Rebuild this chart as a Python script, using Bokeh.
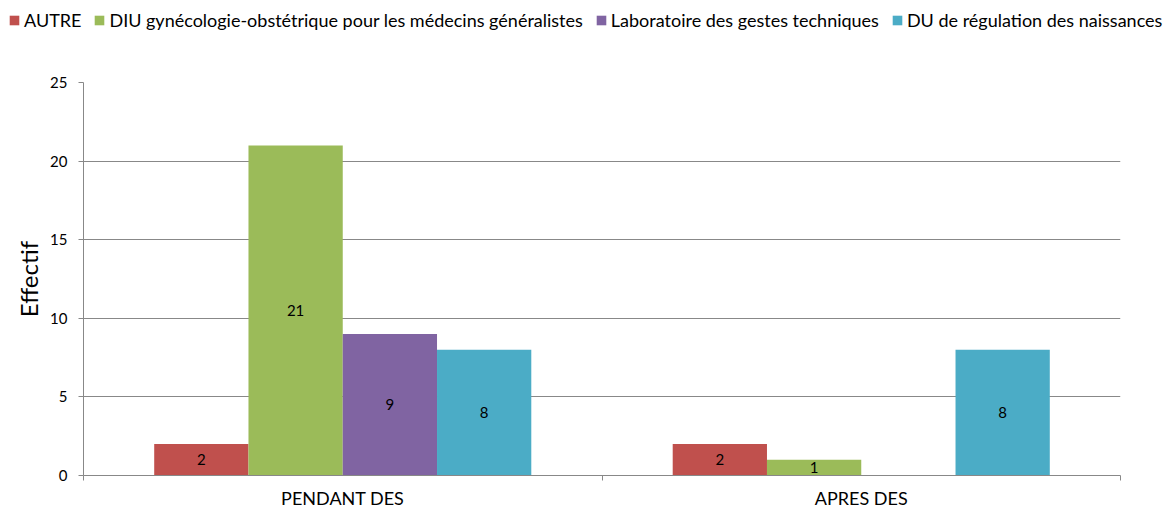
from bokeh.plotting import figure
from bokeh.layouts import column
from bokeh.models import ColumnDataSource, Legend, LegendItem, FixedTicker, Range1d
from bokeh.embed import file_html
from bokeh.resources import INLINE
from bokeh.core.properties import value

categories = ["PENDANT DES", "APRES DES"]
series_names = [
    "AUTRE",
    "DIU gynécologie-obstétrique pour les médecins généralistes",
    "Laboratoire des gestes techniques",
    "DU de régulation des naissances",
]
autre = [2, 2]
diu = [21, 1]
labo = [9, 0]
du = [8, 8]
series_values = [autre, diu, labo, du]
colors = ["#C0504D", "#9BBB59", "#8064A2", "#4BACC6"]
y_ticks = [0, 5, 10, 15, 20, 25]

FONT = "Lato"
GRAY = "#888888"
W = 1173
LEG_H = 40
TOTAL_H = 511

n_cat = len(categories)
n_ser = len(series_names)
gap = 1.5
w = 1.0 / (n_ser + gap)

p = figure(
    width=W, height=TOTAL_H - LEG_H,
    x_range=Range1d(0, n_cat), y_range=Range1d(0, 25),
    output_backend="svg", toolbar_location=None,
    min_border_left=83, min_border_right=W - 1120, min_border_top=82 - LEG_H,
    min_border_bottom=36,
)
p.outline_line_color = None
p.background_fill_color = "white"

# legend-only figure (same series, drawn out of view)
lf = figure(
    width=W, height=LEG_H, x_range=Range1d(100, 101), y_range=Range1d(100, 101),
    output_backend="svg", toolbar_location=None,
    x_axis_type=None, y_axis_type=None,
    min_border=0, min_border_left=0, min_border_right=0, min_border_top=0, min_border_bottom=0,
)
lf.outline_line_color = None
lf.xgrid.visible = False
lf.ygrid.visible = False
for fig in (lf, p):
    if "frame_align" in fig.properties():
        fig.frame_align = False

leg_renderers = []
for j, (name, vals, col) in enumerate(zip(series_names, series_values, colors)):
    xs = [i + 0.5 + (j - (n_ser - 1) / 2) * w for i in range(n_cat)]
    src = ColumnDataSource(dict(x=xs, top=vals))
    p.vbar(x="x", top="top", bottom=0, width=w, source=src,
           fill_color=col, line_color=None)
    lr = lf.vbar(x="x", top="top", bottom=0, width=w, source=src,
                 fill_color=col, line_color=None)
    leg_renderers.append(lr)
    lx = [x for x, v in zip(xs, vals) if v > 0]
    lv = [v for v in vals if v > 0]
    ly = [v / 2 for v in lv]
    lsrc = ColumnDataSource(dict(x=lx, y=ly, t=[str(v) for v in lv]))
    p.text(x="x", y="y", text="t", source=lsrc, text_align="center",
           text_baseline="middle", text_font=value(FONT),
           text_font_size="15px", text_color="#000000")

# y axis
p.yaxis.ticker = FixedTicker(ticks=y_ticks)
p.yaxis.major_tick_out = 5
p.yaxis.major_tick_in = 0
p.yaxis.minor_tick_line_color = None
p.yaxis.axis_line_color = GRAY
p.yaxis.major_tick_line_color = GRAY
p.yaxis.major_label_text_font = FONT
p.yaxis.major_label_text_font_size = "15px"
p.yaxis.major_label_text_color = "#000000"
p.yaxis.major_label_standoff = 11
p.yaxis.axis_label = "Effectif"
p.yaxis.axis_label_text_font = FONT
p.yaxis.axis_label_text_font_size = "24px"
p.yaxis.axis_label_text_font_style = "normal"
p.yaxis.axis_label_text_color = "#000000"
p.yaxis.axis_label_standoff = 4

# x axis
p.xaxis.ticker = FixedTicker(ticks=[i + 0.5 for i in range(n_cat)],
                             minor_ticks=list(range(n_cat + 1)))
p.xaxis.major_label_overrides = {i + 0.5: c for i, c in enumerate(categories)}
p.xaxis.major_tick_line_color = None
p.xaxis.major_tick_out = 0
p.xaxis.major_tick_in = 0
p.xaxis.minor_tick_out = 5
p.xaxis.minor_tick_in = 0
p.xaxis.minor_tick_line_color = GRAY
p.xaxis.axis_line_color = GRAY
p.xaxis.major_label_text_font = FONT
p.xaxis.major_label_text_font_size = "18px"
p.xaxis.major_label_text_color = "#000000"
p.xaxis.major_label_standoff = 6

p.xgrid.visible = False
p.ygrid.ticker = FixedTicker(ticks=y_ticks)
p.ygrid.grid_line_color = GRAY

legend = Legend(
    items=[LegendItem(label=n, renderers=[r]) for n, r in zip(series_names, leg_renderers)],
    orientation="horizontal", location=(8, 9),
    glyph_width=12, glyph_height=12, label_standoff=4, spacing=12,
    padding=0, margin=0, border_line_color=None, background_fill_alpha=0,
    label_text_font=FONT, label_text_font_size="18px", label_text_color="#000000",
)
lf.add_layout(legend)

layout = column(lf, p, spacing=0)
open("out.html", "w").write(file_html(layout, INLINE))
